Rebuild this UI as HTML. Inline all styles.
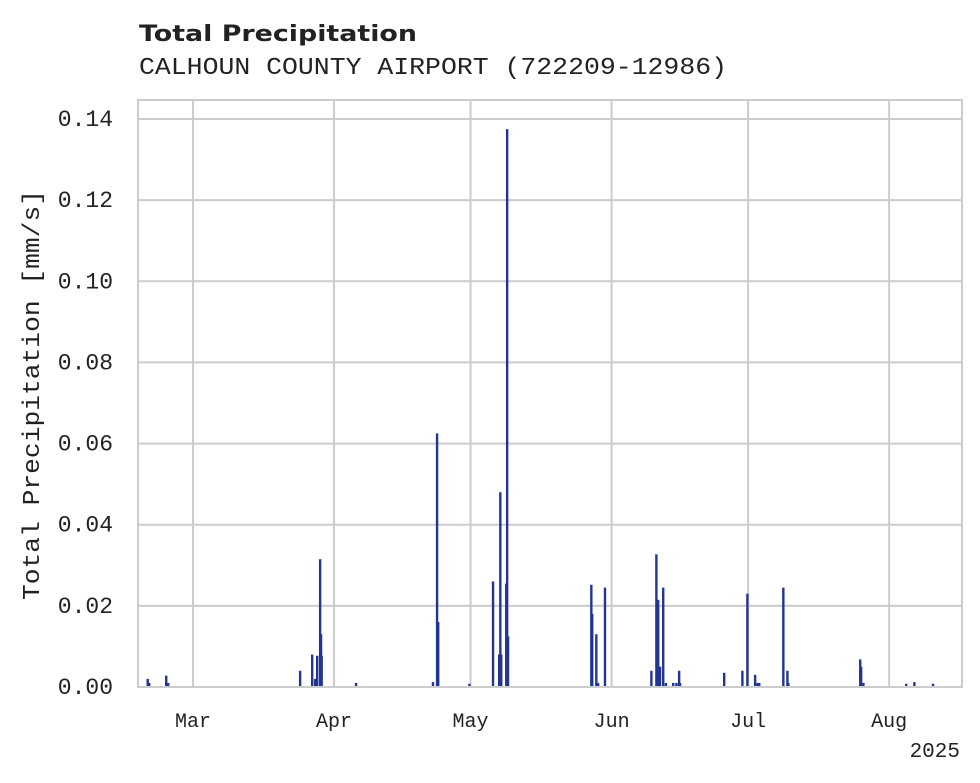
<!DOCTYPE html>
<html><head><meta charset="utf-8"><style>
body{margin:0;background:#fff}
svg{display:block}
text{font-family:"Liberation Mono",monospace;fill:#222}
</style></head><body>
<svg id="chart" width="980" height="783" xmlns="http://www.w3.org/2000/svg">
<text x="139" y="41" style="font-family:'DejaVu Sans',sans-serif;font-weight:bold;font-size:22px" textLength="278" lengthAdjust="spacingAndGlyphs">Total Precipitation</text>
<text x="139" y="74" style="font-size:24px" textLength="588" lengthAdjust="spacingAndGlyphs">CALHOUN COUNTY AIRPORT (722209-12986)</text>
<g id="grid"></g>
<g id="bars"></g>
<rect x="138" y="100" width="824" height="587" fill="none" stroke="#cccccc" stroke-width="2"/>
<g id="ticks"></g>
<text transform="translate(39,395) rotate(-90)" text-anchor="middle" style="font-size:24px" textLength="410" lengthAdjust="spacingAndGlyphs">Total Precipitation [mm/s]</text>
<text x="960" y="757" text-anchor="end" style="font-size:21px">2025</text>
</svg>
<script>
// days since Mar 1, 2025
const barDays = [-10.0,-9.66,-5.93,-5.49,23.5,26.15,26.8,27.25,27.9,28.1,28.24,35.8,52.7,53.6,53.85,60.7,65.9,67.25,67.5,67.7,68.8,69.0,69.2,87.5,87.7,88.6,89.0,90.5,100.7,101.8,102.2,102.6,103.3,103.9,105.5,106.2,106.8,107.0,116.7,120.7,121.8,123.5,124.0,124.4,129.7,130.6,130.8,146.6,146.8,147.3,156.7,158.5,162.6];
const barValues = [0.002,0.001,0.0028,0.001,0.004,0.008,0.002,0.0077,0.0315,0.013,0.0077,0.001,0.0012,0.0625,0.016,0.0008,0.026,0.008,0.048,0.008,0.0255,0.1375,0.0125,0.0252,0.018,0.013,0.001,0.0245,0.004,0.0327,0.0215,0.005,0.0245,0.001,0.001,0.001,0.004,0.001,0.0035,0.004,0.023,0.003,0.001,0.001,0.0245,0.004,0.001,0.0068,0.005,0.001,0.0008,0.0012,0.0008];
const yTicks = [0,0.02,0.04,0.06,0.08,0.10,0.12,0.14];
const yTickLabels = ["0.00","0.02","0.04","0.06","0.08","0.10","0.12","0.14"];
const xTickDays = [0,31,61,92,122,153];
const xTickLabels = ["Mar","Apr","May","Jun","Jul","Aug"];

const NS="http://www.w3.org/2000/svg";
const x = d => 193 + d*4.55;
const y = v => 687 - v*(568/0.14);
const grid=document.getElementById('grid'), bars=document.getElementById('bars'), ticks=document.getElementById('ticks');
function mk(tag, attrs){const e=document.createElementNS(NS,tag);for(const k in attrs)e.setAttribute(k,attrs[k]);return e;}
yTicks.forEach((v,i)=>{
  const l=mk('line',{x1:138,x2:962,y1:y(v),y2:y(v),stroke:'#cccccc','stroke-width':2});
  
  
  grid.appendChild(l);
  const t=mk('text',{x:113,y:y(v)+7,'text-anchor':'end','font-size':'23px'});
  
  
  t.textContent=yTickLabels[i];ticks.appendChild(t);
});
xTickDays.forEach((d,i)=>{
  const l=mk('line',{x1:x(d),x2:x(d),y1:100,y2:687,stroke:'#cccccc','stroke-width':2});
  
  
  grid.appendChild(l);
  const t=mk('text',{x:x(d),y:727,'text-anchor':'middle','font-size':'20px'});
  
  
  t.textContent=xTickLabels[i];ticks.appendChild(t);
});
barDays.forEach((d,i)=>{
  const top=y(barValues[i]);
  const r=mk('rect',{x:x(d)-1,y:top,width:2.4,height:687-top,fill:'#233592'});
  
  
  bars.appendChild(r);
});
</script>
</body></html>
